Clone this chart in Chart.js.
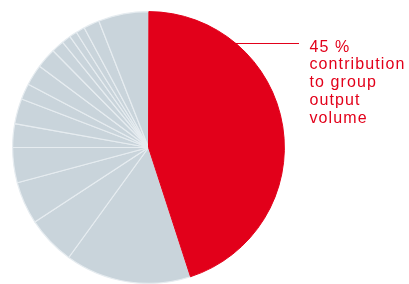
<!DOCTYPE html>
<html>
<head>
<meta charset="utf-8">
<script src="https://cdn.jsdelivr.net/npm/chart.js@4/dist/chart.umd.min.js"></script>
<style>
html,body{margin:0;padding:0;background:#fff;}
#wrap{position:relative;width:409px;height:284px;}
</style>
</head>
<body>
<div id="wrap"><canvas id="c" width="409" height="284"></canvas></div>
<script>
// Segments clockwise, starting right after the red slice (at ~162°); red slice last
const categories = ['Other 1','Other 2','Other 3','Other 4','Other 5','Other 6','Other 7','Other 8','Other 9','Other 10','Other 11','Other 12','Other 13','Other 14','Other 15','Group'];
const shares = [15.0, 5.8, 5.05, 4.2, 2.8, 3.0, 1.9, 2.5, 2.4, 1.5, 1.1, 0.9, 1.05, 1.9, 6.0, 45];
const labelLines = ['45 %', 'contribution', 'to group', 'output', 'volume'];

const RED = '#E2001A';
const GREY = '#C9D4DB';
const SEP = '#E6ECF0';

const bg = shares.map((v, i) => i === shares.length - 1 ? RED : GREY);
const bc = shares.map((v, i) => i === shares.length - 1 ? RED : SEP);
const bw = shares.map((v, i) => i === shares.length - 1 ? 1 : 1.2);

const labelPlugin = {
  id: 'labelPlugin',
  afterDraw(chart) {
    const ctx = chart.ctx;
    const arc = chart.getDatasetMeta(0).data[shares.length - 1];
    const cx = arc.x, cy = arc.y, r = arc.outerRadius;
    const ly = 43.5;
    const lx0 = cx + Math.sqrt(r * r - (cy - ly) * (cy - ly)) - 2;
    ctx.save();
    ctx.strokeStyle = RED;
    ctx.lineWidth = 1;
    ctx.beginPath();
    ctx.moveTo(lx0, ly);
    ctx.lineTo(299, ly);
    ctx.stroke();
    ctx.fillStyle = RED;
    ctx.font = '16px "Liberation Sans", Arial, sans-serif';
    ctx.letterSpacing = '1.1px';
    ctx.textBaseline = 'alphabetic';
    ctx.textAlign = 'left';
    labelLines.forEach((t, i) => ctx.fillText(t, 309.5, 51.5 + i * 17.8));
    ctx.restore();
  }
};

new Chart(document.getElementById('c'), {
  type: 'pie',
  data: {
    labels: categories,
    datasets: [{
      data: shares,
      backgroundColor: bg,
      borderColor: bc,
      borderWidth: bw,
      hoverOffset: 0
    }]
  },
  options: {
    responsive: false,
    animation: false,
    rotation: 162,
    layout: { padding: { left: 12, right: 124, top: 11, bottom: 0 } },
    plugins: {
      legend: { display: false },
      tooltip: { enabled: false }
    }
  },
  plugins: [labelPlugin]
});
</script>
</body>
</html>
